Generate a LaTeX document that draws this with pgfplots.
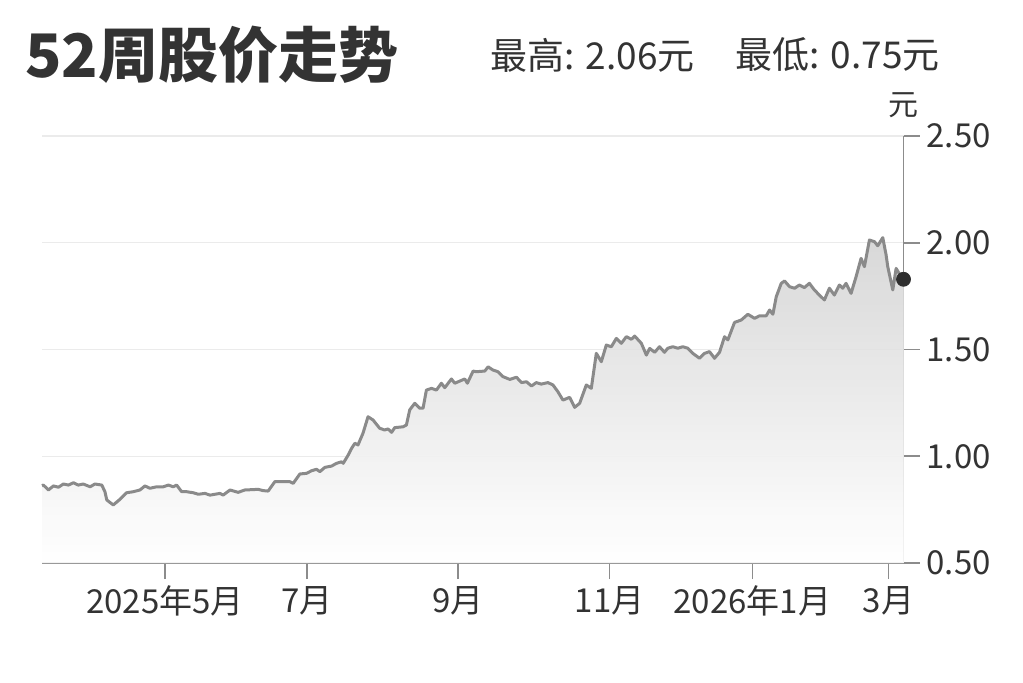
\documentclass[border=0pt]{standalone}
\usepackage{pgfplots}
\pgfplotsset{compat=1.18}
\usepackage{pgfplotstable}
\usepackage{fontspec}
\setmainfont{Noto Sans CJK SC}

\definecolor{txt}{HTML}{333333}
\definecolor{axisgray}{HTML}{8C8C8C}
\definecolor{linegray}{HTML}{8A8A8A}
\definecolor{gridgray}{HTML}{EBEBEB}
\definecolor{dotgray}{HTML}{2E2E2E}

% day 0 = 2025-05-01 tick, price in yuan
\pgfplotstableread{
day price
-51.6 0.862
-51.0 0.865
-48.9 0.842
-46.8 0.861
-44.7 0.855
-42.6 0.870
-40.5 0.865
-38.4 0.876
-36.4 0.865
-34.3 0.870
-31.4 0.857
-29.4 0.870
-26.5 0.865
-25.2 0.834
-24.4 0.795
-21.7 0.772
-18.9 0.798
-16.1 0.829
-13.3 0.834
-10.5 0.842
-8.4 0.861
-6.3 0.850
-3.5 0.857
-0.7 0.857
1.4 0.865
3.5 0.857
4.9 0.865
7.0 0.834
9.1 0.834
11.9 0.829
14.0 0.822
16.8 0.826
18.9 0.818
23.1 0.826
24.4 0.818
27.3 0.842
30.7 0.831
33.5 0.842
39.1 0.845
41.2 0.839
43.3 0.837
46.1 0.881
48.2 0.881
52.4 0.881
53.8 0.873
56.6 0.917
59.4 0.920
61.5 0.932
63.6 0.939
65.0 0.928
67.1 0.948
69.9 0.954
72.0 0.967
74.1 0.974
74.8 0.967
76.9 1.006
78.3 1.037
79.7 1.061
81.0 1.053
83.1 1.108
85.2 1.185
87.3 1.170
90.1 1.131
92.2 1.123
93.6 1.128
95.1 1.112
96.4 1.134
99.9 1.138
101.3 1.146
102.7 1.217
104.8 1.248
106.9 1.225
108.3 1.225
109.7 1.310
111.8 1.318
113.9 1.310
116.0 1.342
117.4 1.321
120.2 1.362
121.6 1.342
123.7 1.352
125.8 1.362
126.9 1.342
129.3 1.399
130.7 1.396
134.2 1.399
135.6 1.419
137.6 1.404
139.7 1.396
141.8 1.373
144.7 1.360
147.5 1.370
149.6 1.345
151.7 1.349
153.8 1.329
155.8 1.345
157.9 1.338
160.7 1.345
162.8 1.334
164.9 1.302
167.0 1.263
169.8 1.276
171.9 1.229
174.0 1.248
176.8 1.334
178.9 1.318
181.0 1.482
183.1 1.443
185.2 1.521
187.3 1.513
189.4 1.552
191.5 1.529
193.6 1.560
195.7 1.548
197.1 1.563
199.9 1.529
202.0 1.474
203.4 1.505
205.5 1.487
207.5 1.513
209.6 1.487
211.0 1.506
213.1 1.513
215.2 1.506
217.3 1.513
219.4 1.506
221.5 1.482
224.3 1.459
226.4 1.482
228.5 1.490
230.6 1.459
232.7 1.487
234.8 1.560
236.2 1.545
239.0 1.627
241.8 1.638
244.6 1.665
247.4 1.646
249.5 1.658
252.3 1.658
253.7 1.685
255.1 1.665
256.5 1.747
258.6 1.810
260.0 1.821
262.1 1.794
264.2 1.787
266.2 1.802
268.3 1.790
270.4 1.810
272.5 1.779
274.6 1.755
276.7 1.732
278.8 1.787
280.9 1.755
283.0 1.802
284.4 1.787
285.8 1.810
287.9 1.763
290.0 1.841
292.1 1.927
293.5 1.888
295.6 2.013
297.7 2.005
299.1 1.986
301.2 2.024
302.6 1.943
303.3 1.888
305.4 1.779
306.8 1.880
308.9 1.841
309.9 1.829
}\price

\begin{document}
\begin{tikzpicture}
\useasboundingbox (0,0) rectangle (511.5pt,341pt);
\begin{axis}[
  at={(21pt,59.5pt)}, anchor=south west,
  width=430.75pt, height=213.5pt, scale only axis,
  xmin=-51.6, xmax=309.9, ymin=0.5, ymax=2.5,
  axis x line*=bottom, axis y line*=right,
  axis line style={axisgray, line width=0.8pt},
  xtick={0,59.5,123,186.6,246.5,303.6},
  xticklabels={2025年5月,7月,9月,11月,2026年1月,3月},
  ytick={0.5,1,1.5,2,2.5},
  yticklabel style={/pgf/number format/.cd, fixed, fixed zerofill, precision=2},
  /pgf/number format/assume math mode=true,
  tick align=outside,
  major tick length=8pt,
  tick style={axisgray, line width=0.8pt},
  ymajorgrids, grid style={gridgray, line width=0.6pt},
  tick label style={font=\fontsize{16.5}{18}\selectfont, text=txt},
  clip=false,
]
\addplot[draw=none, top color=black!17, bottom color=white, fill opacity=0.9]
  table {\price} -- (309.9,0.5) -- (-51.6,0.5) -- cycle;
\addplot[linegray, line width=1.5pt, line join=round] table {\price};
\addplot[only marks, mark=*, mark size=3.5pt, dotgray] coordinates {(309.9,1.829)};
\end{axis}
\node[anchor=west, inner sep=0pt, text=txt, font=\fontsize{30}{33}\selectfont\bfseries] at (12.5pt,313.5pt) {52周股价走势};
\node[anchor=west, inner sep=0pt, text=txt, font=\fontsize{18.5}{20}\selectfont] at (245pt,313.5pt) {最高: 2.06元};
\node[anchor=west, inner sep=0pt, text=txt, font=\fontsize{18.5}{20}\selectfont] at (367.5pt,313.5pt) {最低: 0.75元};
\node[text=txt, inner sep=0pt, font=\fontsize{15}{16}\selectfont] at (451.5pt,288.5pt) {元};
\end{tikzpicture}
\end{document}
